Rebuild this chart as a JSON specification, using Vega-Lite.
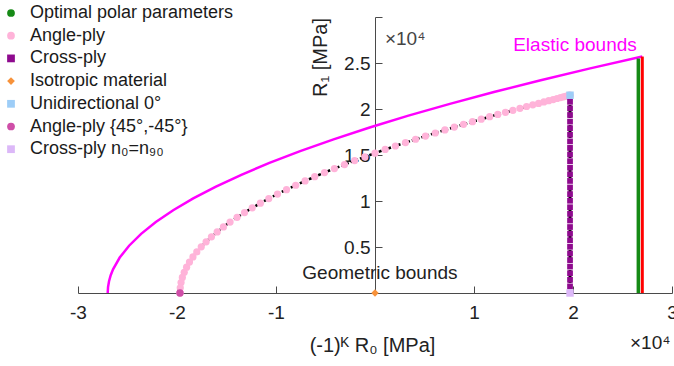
{
  "$schema": "https://vega.github.io/schema/vega-lite/v6.json",
  "width": 594,
  "height": 276,
  "autosize": {"type": "none"},
  "padding": {"left": 78, "top": 17, "right": 2, "bottom": 73},
  "background": "white",
  "config": {
    "view": {"stroke": null},
    "font": "Liberation Sans",
    "axis": {"grid": false, "domainColor": "#4a4a4a", "tickColor": "#4a4a4a", "labelColor": "#222222", "titleColor": "#222222", "titleFontWeight": "normal", "labelFont": "Liberation Sans", "titleFont": "Liberation Sans", "labelFontSize": 19, "titleFontSize": 20, "labelFlush": false, "labelOverlap": false}
  },
  "datasets": {
    "elastic": [
      {"x": -2.7, "y": 0}, {"x": -2.6966, "y": 0.0643}, {"x": -2.6865, "y": 0.1285}, {"x": -2.6696, "y": 0.1928},
      {"x": -2.646, "y": 0.257}, {"x": -2.5785, "y": 0.3855}, {"x": -2.484, "y": 0.514}, {"x": -2.3625, "y": 0.6425},
      {"x": -2.214, "y": 0.771}, {"x": -2.0385, "y": 0.8995}, {"x": -1.836, "y": 1.028}, {"x": -1.6065, "y": 1.1565},
      {"x": -1.35, "y": 1.285}, {"x": -1.0665, "y": 1.4135}, {"x": -0.756, "y": 1.542}, {"x": -0.4185, "y": 1.6705},
      {"x": -0.054, "y": 1.799}, {"x": 0.3375, "y": 1.9275}, {"x": 0.756, "y": 2.056}, {"x": 1.2015, "y": 2.1845},
      {"x": 1.674, "y": 2.313}, {"x": 2.1735, "y": 2.4415}, {"x": 2.7, "y": 2.57}
    ],
    "angle": [
      {"x": 1.970, "y": 2.150}, {"x": 1.967, "y": 2.149}, {"x": 1.959, "y": 2.147}, {"x": 1.946, "y": 2.143},
      {"x": 1.927, "y": 2.138}, {"x": 1.903, "y": 2.132}, {"x": 1.874, "y": 2.124}, {"x": 1.839, "y": 2.114},
      {"x": 1.800, "y": 2.103}, {"x": 1.755, "y": 2.091}, {"x": 1.706, "y": 2.077}, {"x": 1.652, "y": 2.061},
      {"x": 1.594, "y": 2.045}, {"x": 1.531, "y": 2.027}, {"x": 1.464, "y": 2.007}, {"x": 1.393, "y": 1.986},
      {"x": 1.318, "y": 1.964}, {"x": 1.240, "y": 1.941}, {"x": 1.158, "y": 1.916}, {"x": 1.073, "y": 1.889},
      {"x": 0.985, "y": 1.862}, {"x": 0.894, "y": 1.833}, {"x": 0.801, "y": 1.803}, {"x": 0.706, "y": 1.772},
      {"x": 0.609, "y": 1.739}, {"x": 0.510, "y": 1.706}, {"x": 0.410, "y": 1.671}, {"x": 0.308, "y": 1.635},
      {"x": 0.206, "y": 1.598}, {"x": 0.103, "y": 1.560}, {"x": 0.000, "y": 1.520}, {"x": -0.103, "y": 1.480},
      {"x": -0.206, "y": 1.439}, {"x": -0.308, "y": 1.396}, {"x": -0.410, "y": 1.353}, {"x": -0.510, "y": 1.309},
      {"x": -0.609, "y": 1.264}, {"x": -0.706, "y": 1.218}, {"x": -0.801, "y": 1.171}, {"x": -0.894, "y": 1.123},
      {"x": -0.985, "y": 1.075}, {"x": -1.073, "y": 1.026}, {"x": -1.158, "y": 0.976}, {"x": -1.240, "y": 0.926},
      {"x": -1.318, "y": 0.874}, {"x": -1.393, "y": 0.823}, {"x": -1.464, "y": 0.771}, {"x": -1.531, "y": 0.718},
      {"x": -1.594, "y": 0.664}, {"x": -1.652, "y": 0.611}, {"x": -1.706, "y": 0.556}, {"x": -1.755, "y": 0.502},
      {"x": -1.800, "y": 0.447}, {"x": -1.839, "y": 0.392}, {"x": -1.874, "y": 0.336}, {"x": -1.903, "y": 0.281},
      {"x": -1.927, "y": 0.225}, {"x": -1.946, "y": 0.169}, {"x": -1.959, "y": 0.113}, {"x": -1.967, "y": 0.056},
      {"x": -1.970, "y": 0.000}
    ],
    "cross": [
      {"x": 1.97, "y": 0}, {"x": 1.97, "y": 0.072}, {"x": 1.97, "y": 0.143}, {"x": 1.97, "y": 0.215},
      {"x": 1.97, "y": 0.287}, {"x": 1.97, "y": 0.358}, {"x": 1.97, "y": 0.430}, {"x": 1.97, "y": 0.502},
      {"x": 1.97, "y": 0.573}, {"x": 1.97, "y": 0.645}, {"x": 1.97, "y": 0.717}, {"x": 1.97, "y": 0.788},
      {"x": 1.97, "y": 0.860}, {"x": 1.97, "y": 0.932}, {"x": 1.97, "y": 1.003}, {"x": 1.97, "y": 1.075},
      {"x": 1.97, "y": 1.147}, {"x": 1.97, "y": 1.218}, {"x": 1.97, "y": 1.290}, {"x": 1.97, "y": 1.362},
      {"x": 1.97, "y": 1.433}, {"x": 1.97, "y": 1.505}, {"x": 1.97, "y": 1.577}, {"x": 1.97, "y": 1.648},
      {"x": 1.97, "y": 1.720}, {"x": 1.97, "y": 1.792}, {"x": 1.97, "y": 1.863}, {"x": 1.97, "y": 1.935},
      {"x": 1.97, "y": 2.007}, {"x": 1.97, "y": 2.078}, {"x": 1.97, "y": 2.150}
    ],
    "optimal": [{"x": 2.66, "y": 0, "y2": 2.55}],
    "bound": [{"x": 2.70, "y": 0, "y2": 2.57}],
    "special": [
      {"series": "Isotropic material", "x": 0, "y": 0},
      {"series": "Unidirectional 0°", "x": 1.97, "y": 2.15},
      {"series": "Angle-ply {45°,-45°}", "x": -1.97, "y": 0},
      {"series": "Cross-ply n₀=n₉₀", "x": 1.97, "y": 0}
    ],
    "magentaNotes": [{"label": "Elastic bounds", "x": 2.02, "y": 2.70}],
    "darkNotes": [
      {"label": "Geometric bounds", "x": 0.05, "y": 0.22},
      {"label": "×10⁴", "x": 2.78, "y": -0.545}
    ],
    "exponentY": [{"label": "×10⁴", "x": 0.1, "y": 2.76}]
  },
  "layer": [
    {
      "data": {"name": "elastic"},
      "mark": {"type": "line", "color": "#ff00ff", "strokeWidth": 2.5},
      "encoding": {
        "x": {"field": "x", "type": "quantitative",
          "scale": {"domain": [-3, 3], "nice": false, "zero": false},
          "axis": {"title": "(-1)ᴷ R₀ [MPa]", "values": [-3, -2, -1, 1, 2, 3], "labelExpr": "toString(datum.value)",
            "tickSize": -7, "labelPadding": 17, "titleX": 294, "titleY": 52, "titleBaseline": "middle"}},
        "y": {"field": "y", "type": "quantitative",
          "scale": {"domain": [0, 3], "nice": false, "zero": false},
          "axis": {"title": "R₁ [MPa]", "values": [0.5, 1, 1.5, 2, 2.5, 3],
            "labelExpr": "datum.value == 3 ? '' : toString(datum.value)",
            "offset": -297, "tickSize": -7, "labelPadding": 12,
            "titleX": -55, "titleY": 40, "titleAngle": -90, "titleAlign": "center", "titleBaseline": "middle"}}
      }
    },
    {
      "data": {"name": "bound"},
      "mark": {"type": "rule", "color": "#ff0000", "strokeWidth": 3},
      "encoding": {
        "x": {"field": "x", "type": "quantitative"},
        "y": {"field": "y", "type": "quantitative"},
        "y2": {"field": "y2"}
      }
    },
    {
      "data": {"name": "optimal"},
      "mark": {"type": "rule", "color": "#168a16", "strokeWidth": 3.5},
      "encoding": {
        "x": {"field": "x", "type": "quantitative"},
        "y": {"field": "y", "type": "quantitative"},
        "y2": {"field": "y2"}
      }
    },
    {
      "data": {"name": "angle"},
      "mark": {"type": "line", "color": "#000000", "strokeWidth": 2.5, "strokeDash": [3, 2]},
      "encoding": {
        "x": {"field": "x", "type": "quantitative"},
        "y": {"field": "y", "type": "quantitative"}
      }
    },
    {
      "data": {"name": "cross"},
      "mark": {"type": "line", "color": "#000000", "strokeWidth": 3, "strokeDash": [3, 2]},
      "encoding": {
        "x": {"field": "x", "type": "quantitative"},
        "y": {"field": "y", "type": "quantitative"},
        "order": {"field": "y", "type": "quantitative"}
      }
    },
    {
      "data": {"name": "angle"},
      "mark": {"type": "point", "shape": "circle", "filled": true, "color": "#ffb3d9", "opacity": 1, "size": 52},
      "encoding": {
        "x": {"field": "x", "type": "quantitative"},
        "y": {"field": "y", "type": "quantitative"}
      }
    },
    {
      "data": {"name": "cross"},
      "mark": {"type": "point", "shape": "square", "filled": true, "color": "#8e0a8e", "opacity": 1, "size": 33},
      "encoding": {
        "x": {"field": "x", "type": "quantitative"},
        "y": {"field": "y", "type": "quantitative"}
      }
    },
    {
      "data": {"name": "special"},
      "mark": {"type": "point", "filled": true, "opacity": 1, "size": 55},
      "encoding": {
        "x": {"field": "x", "type": "quantitative"},
        "y": {"field": "y", "type": "quantitative"},
        "color": {"field": "series", "type": "nominal",
          "scale": {
            "domain": ["Optimal polar parameters", "Angle-ply", "Cross-ply", "Isotropic material", "Unidirectional 0°", "Angle-ply {45°,-45°}", "Cross-ply n₀=n₉₀"],
            "range": ["#168a16", "#ffb3d9", "#8e0a8e", "#f7923a", "#9dcdf7", "#cf4fa8", "#dcb8f8"]
          },
          "legend": {"title": null, "orient": "none", "legendX": -76, "legendY": -13, "direction": "vertical",
            "labelFontSize": 18, "labelFont": "Liberation Sans", "labelColor": "#1a1a1a", "labelLimit": 400, "symbolSize": 60,
            "symbolStrokeWidth": 0, "symbolOpacity": 1, "rowPadding": 4.7, "labelOffset": 10}},
        "shape": {"field": "series", "type": "nominal",
          "scale": {
            "domain": ["Optimal polar parameters", "Angle-ply", "Cross-ply", "Isotropic material", "Unidirectional 0°", "Angle-ply {45°,-45°}", "Cross-ply n₀=n₉₀"],
            "range": ["circle", "circle", "square", "diamond", "square", "circle", "square"]
          },
          "legend": {"title": null, "orient": "none", "legendX": -76, "legendY": -13, "direction": "vertical",
            "labelFontSize": 18, "labelFont": "Liberation Sans", "labelColor": "#1a1a1a", "labelLimit": 400, "symbolSize": 60,
            "symbolStrokeWidth": 0, "symbolOpacity": 1, "rowPadding": 4.7, "labelOffset": 10}}
      }
    },
    {
      "data": {"name": "magentaNotes"},
      "mark": {"type": "text", "color": "#ff00ff", "fontSize": 19, "font": "Liberation Sans", "align": "center", "baseline": "middle"},
      "encoding": {
        "x": {"field": "x", "type": "quantitative"},
        "y": {"field": "y", "type": "quantitative"},
        "text": {"field": "label"}
      }
    },
    {
      "data": {"name": "darkNotes"},
      "mark": {"type": "text", "color": "#222222", "fontSize": 19, "font": "Liberation Sans", "align": "center", "baseline": "middle"},
      "encoding": {
        "x": {"field": "x", "type": "quantitative"},
        "y": {"field": "y", "type": "quantitative"},
        "text": {"field": "label"}
      }
    },
    {
      "data": {"name": "exponentY"},
      "mark": {"type": "text", "color": "#444444", "fontSize": 19, "font": "Liberation Sans", "align": "left", "baseline": "middle"},
      "encoding": {
        "x": {"field": "x", "type": "quantitative"},
        "y": {"field": "y", "type": "quantitative"},
        "text": {"field": "label"}
      }
    }
  ]
}
